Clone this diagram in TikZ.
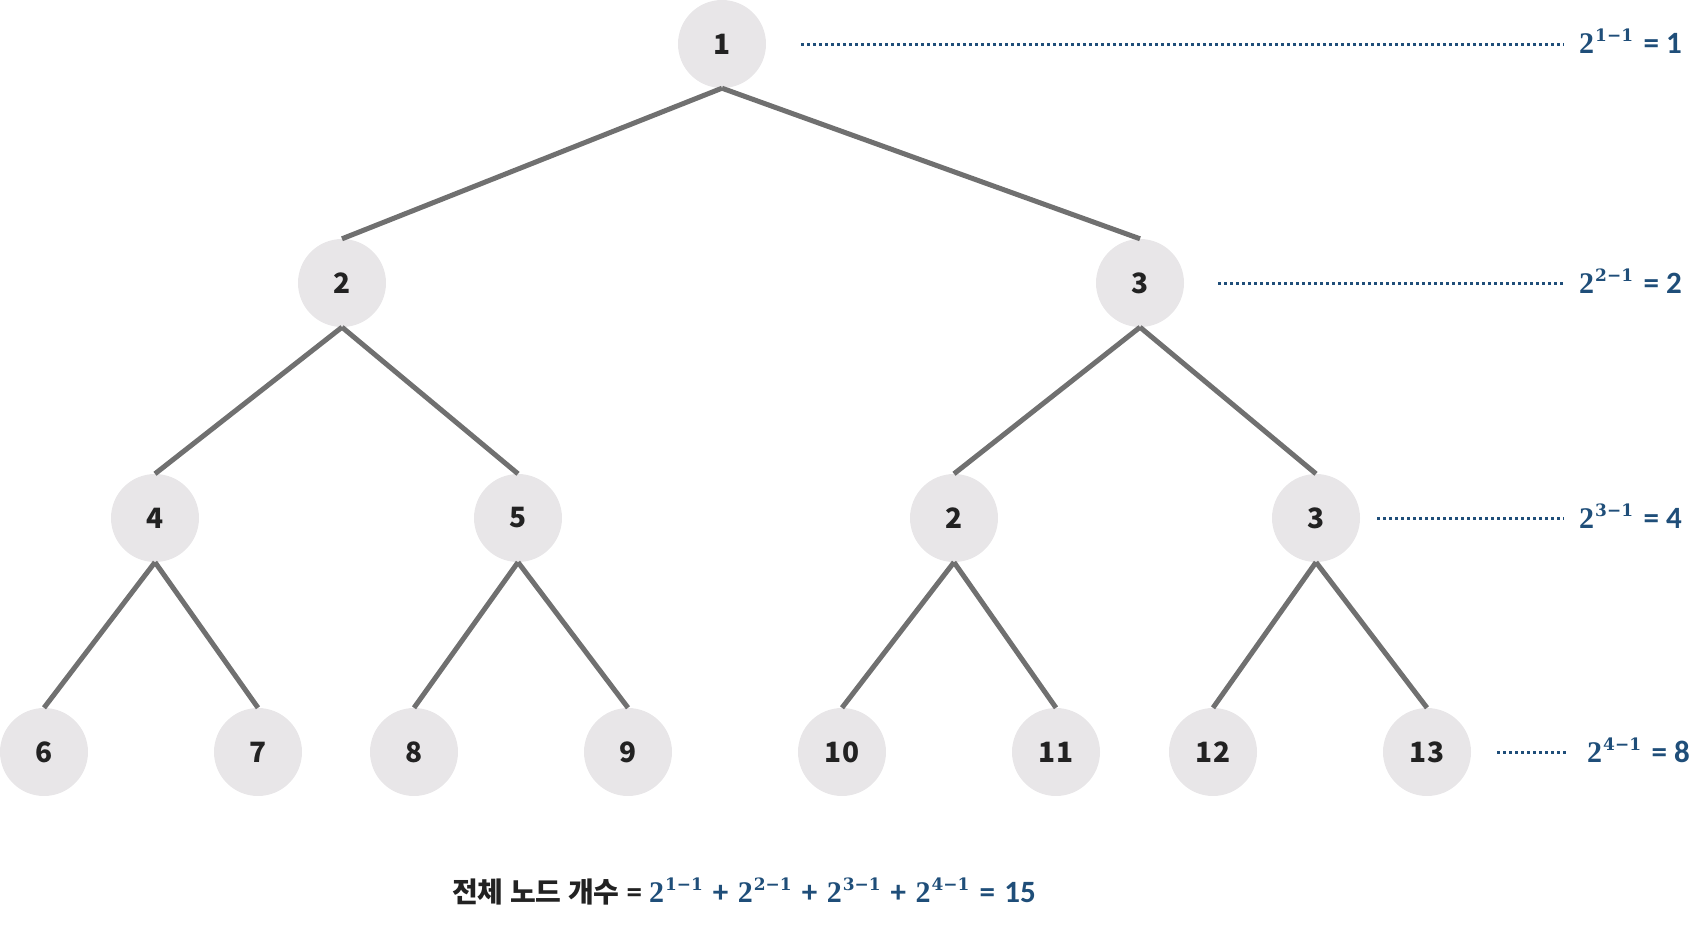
\documentclass[tikz,border=0pt]{standalone}
\usepackage{fontspec}
\newfontfamily\krfont{Noto Sans CJK KR}
\newfontfamily\mthfont{Liberation Serif}
\newfontfamily\supfont{DejaVu Serif}
\newfontfamily\carlfont{Carlito}
\definecolor{nodegray}{HTML}{E8E6E8}
\definecolor{edgegray}{HTML}{707070}
\definecolor{txt}{HTML}{222222}
\definecolor{blueone}{HTML}{1F4E79}
\newcommand\pw[1]{{\mthfont\bfseries\fontsize{30}{34}\selectfont 2\hspace{1pt}\raisebox{11.5pt}{\supfont\bfseries\fontsize{17}{20}\selectfont #1}}}
\newcommand\op[1]{\hspace{3pt}#1\hspace{2.5pt}}
\begin{document}
\begin{tikzpicture}[x=1pt,y=-1pt]
\useasboundingbox (0,0) rectangle (1708,926);
\tikzset{
  tnode/.style={circle,fill=nodegray,minimum size=88pt,inner sep=0pt,
    font=\krfont\bfseries\fontsize{28}{32}\selectfont,text=txt},
  edge/.style={draw=edgegray,line width=5pt},
  lvl/.style={draw=blueone,line width=3pt,dash pattern=on 3pt off 3pt},
  lab/.style={anchor=base west,text=blueone,inner sep=0pt,
    font=\carlfont\bfseries\fontsize{31}{34}\selectfont}
}
% nodes
\node[tnode] (n1) at (722,44) {1};
\node[tnode] (n2) at (342,283) {2};
\node[tnode] (n3) at (1140,283) {3};
\node[tnode] (n4) at (155,518) {4};
\node[tnode] (n5) at (518,518) {5};
\node[tnode] (n6) at (954,518) {2};
\node[tnode] (n7) at (1316,518) {3};
\node[tnode] (m6) at (44,752) {6};
\node[tnode] (m7) at (258,752) {7};
\node[tnode] (m8) at (414,752) {8};
\node[tnode] (m9) at (628,752) {9};
\node[tnode] (m10) at (842,752) {10};
\node[tnode] (m11) at (1056,752) {11};
\node[tnode] (m12) at (1213,752) {12};
\node[tnode] (m13) at (1427,752) {13};
% edges
\draw[edge] (n1.south) -- (n2.north);
\draw[edge] (n1.south) -- (n3.north);
\draw[edge] (n2.south) -- (n4.north);
\draw[edge] (n2.south) -- (n5.north);
\draw[edge] (n3.south) -- (n6.north);
\draw[edge] (n3.south) -- (n7.north);
\draw[edge] (n4.south) -- (m6.north);
\draw[edge] (n4.south) -- (m7.north);
\draw[edge] (n5.south) -- (m8.north);
\draw[edge] (n5.south) -- (m9.north);
\draw[edge] (n6.south) -- (m10.north);
\draw[edge] (n6.south) -- (m11.north);
\draw[edge] (n7.south) -- (m12.north);
\draw[edge] (n7.south) -- (m13.north);
% level labels
\node[lab] (l1) at (1579,53) {\pw{1−1}\hspace{3.5pt} = 1};
\node[lab] (l2) at (1579,293) {\pw{2−1}\hspace{3.5pt} = 2};
\node[lab] (l3) at (1579,528) {\pw{3−1}\hspace{3.5pt} = 4};
\node[lab] (l4) at (1587,762) {\pw{4−1}\hspace{3.5pt} = 8};
\coordinate (d1s) at (801,44);  \coordinate (d1e) at (1564,44);
\coordinate (d2s) at (1218,283); \coordinate (d2e) at (1564,283);
\coordinate (d3s) at (1377,518); \coordinate (d3e) at (1564,518);
\coordinate (d4s) at (1497,752); \coordinate (d4e) at (1568,752);
\draw[lvl] (d1s) -- (d1e);
\draw[lvl] (d2s) -- (d2e);
\draw[lvl] (d3s) -- (d3e);
\draw[lvl] (d4s) -- (d4e);
% total
\node[anchor=base west,inner sep=0pt,font=\carlfont\bfseries\fontsize{31}{34}\selectfont] (tot) at (452,902)
  {{\krfont\bfseries\fontsize{28}{32}\selectfont\color{txt}전체 노드 개수} {\color{txt}=} \textcolor{blueone}{\pw{1−1} \op{+} \pw{2−1} \op{+} \pw{3−1} \op{+} \pw{4−1} \op{=} 15}};
\end{tikzpicture}
\end{document}
